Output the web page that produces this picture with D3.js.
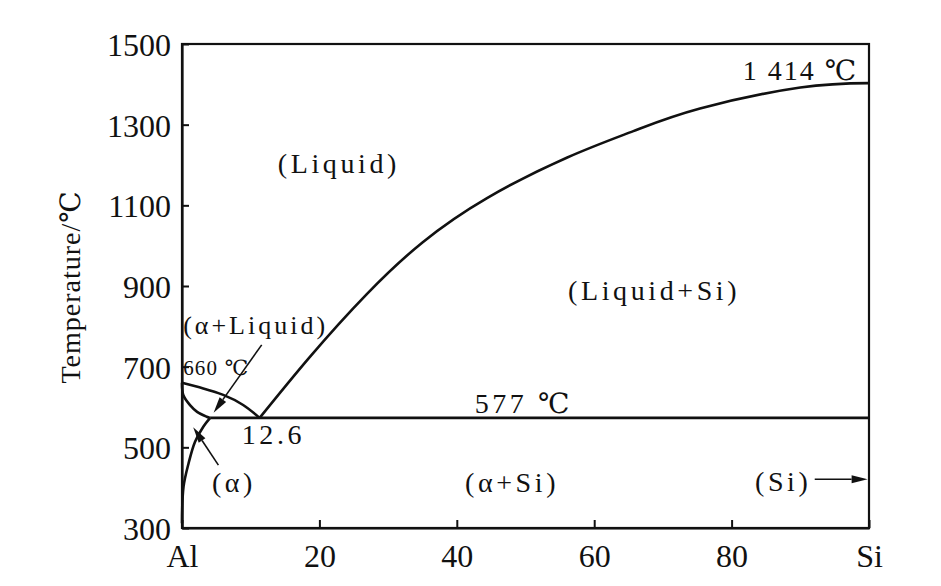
<!DOCTYPE html>
<html>
<head>
<meta charset="utf-8">
<script src="https://cdn.jsdelivr.net/npm/d3@7/dist/d3.min.js"></script>
<style>
  html, body { margin: 0; padding: 0; background: #fff; }
  #chart { width: 941px; height: 586px; }
</style>
</head>
<body>
<div id="chart"></div>
<script>
// ---- Data (composition in wt.% Si, temperature in ℃) ----
const xTicks = [0, 20, 40, 60, 80, 100];
const xTickLabels = ['Al', '20', '40', '60', '80', 'Si'];
const yTicks = [300, 500, 700, 900, 1100, 1300, 1500];

// liquidus, Al side: 660 ℃ down to the eutectic
const liquidusAl = [[0, 660], [3.1, 646], [6.0, 630], [8.9, 605], [11.3, 573]];
// liquidus, Si side: eutectic up to the Si melting point
const liquidusSi = [[11.3, 573], [18.65, 725], [26.9, 880], [35.0, 1008], [44.4, 1118],
                    [56.0, 1218], [65.7, 1284], [75.4, 1340], [90.0, 1392], [100, 1403]];
// solidus of (α)
const solidus = [[0, 660], [0.2, 629], [1.2, 604], [2.2, 588], [3.6, 576], [4.1, 573]];
// solvus of (α)
const solvus = [[4.1, 573], [3.1, 551], [1.9, 514], [0.95, 460], [0.22, 402], [0, 312]];
// eutectic isotherm
const eutectic = [[4.1, 573], [100, 573]];

// annotation arrows [from, to] in data units
const arrows = [
  [[11.6, 754], [4.6, 586]],   // (α+Liquid)
  [[5.3, 456], [1.63, 550]],   // (α)
  [[92.1, 421], [99.8, 421]]   // (Si)
];

// labels: text, x, temperature, anchor, style class
const labels = [
  ['(Liquid)', 13.95, 1180, 'start', 'big'],
  ['(Liquid+Si)', 56.2, 865, 'start', 'big'],
  ['(α+Liquid)', 0.17, 781, 'start', 'mid'],
  ['660 ℃', 0.17, 679, 'start', 'small'],
  ['12.6', 8.7, 508, 'start', 'big'],
  ['577 ℃', 42.6, 585, 'start', 'big'],
  ['1 414 ℃', 98.4, 1411, 'end', 'tight'],
  ['(α)', 4.35, 389, 'start', 'big'],
  ['(α+Si)', 41.2, 389, 'start', 'big'],
  ['(Si)', 83.4, 392, 'start', 'big']
];

// ---- Layout ----
const W = 941, H = 586;
const margin = { top: 44, right: 72, bottom: 58, left: 182 };
const innerW = W - margin.left - margin.right;
const innerH = H - margin.top - margin.bottom;
const ink = '#111';
const serif = '"Liberation Serif", "Times New Roman", "DejaVu Serif", serif';

const svg = d3.select('#chart').append('svg')
  .attr('width', W)
  .attr('height', H)
  .attr('viewBox', `0 0 ${W} ${H}`);

const g = svg.append('g')
  .attr('transform', `translate(${margin.left},${margin.top})`);

// ---- Scales ----
const x = d3.scaleLinear().domain([0, 100]).range([0, innerW]);
const y = d3.scaleLinear().domain([300, 1500]).range([innerH, 0]);

// ---- Frame ----
g.append('rect')
  .attr('x', 0).attr('y', 0)
  .attr('width', innerW).attr('height', innerH)
  .attr('fill', 'none')
  .attr('stroke', ink)
  .attr('stroke-width', 2.2);

// ---- Axes (ticks point inward) ----
const xAxis = g.append('g')
  .attr('transform', `translate(0,${innerH})`)
  .call(d3.axisBottom(x).tickValues(xTicks).tickSizeInner(-8).tickSizeOuter(0)
    .tickPadding(16).tickFormat((d, i) => xTickLabels[i]));

const yAxis = g.append('g')
  .call(d3.axisLeft(y).tickValues(yTicks).tickSizeInner(-7).tickSizeOuter(0)
    .tickPadding(11).tickFormat(d3.format('d')));

[xAxis, yAxis].forEach(a => {
  a.select('.domain').attr('stroke', ink).attr('stroke-width', 2.2);
  a.selectAll('.tick line').attr('stroke', ink).attr('stroke-width', 2);
  a.selectAll('.tick text')
    .style('font-family', serif)
    .style('font-size', '32px')
    .attr('fill', ink);
});
yAxis.selectAll('.tick text').attr('dy', '0.36em');

// ---- Axis title ----
g.append('text')
  .attr('transform', `translate(${80 - margin.left},${287 - margin.top}) rotate(-90)`)
  .attr('text-anchor', 'middle')
  .style('font-family', serif)
  .style('font-size', '28px')
  .style('letter-spacing', '1px')
  .attr('fill', ink)
  .text('Temperature/℃');

// ---- Phase boundaries ----
const lineSmooth = d3.line()
  .x(d => x(d[0]))
  .y(d => y(d[1]))
  .curve(d3.curveNatural);
const lineFree = d3.line()
  .x(d => x(d[0]))
  .y(d => y(d[1]))
  .curve(d3.curveCatmullRom.alpha(0.5));

[[liquidusAl, lineSmooth], [liquidusSi, lineSmooth], [solidus, lineFree], [solvus, lineFree]]
  .forEach(([pts, gen]) => {
    g.append('path')
      .datum(pts)
      .attr('d', gen)
      .attr('fill', 'none')
      .attr('stroke', ink)
      .attr('stroke-width', 2.6);
  });

g.append('path')
  .datum(eutectic)
  .attr('d', d3.line().x(d => x(d[0])).y(d => y(d[1])))
  .attr('fill', 'none')
  .attr('stroke', ink)
  .attr('stroke-width', 2.6);

// ---- Arrows ----
arrows.forEach(([a, b]) => {
  const x0 = x(a[0]), y0 = y(a[1]), x1 = x(b[0]), y1 = y(b[1]);
  const ang = Math.atan2(y1 - y0, x1 - x0);
  const len = 16, half = 4;
  const bx = x1 - len * Math.cos(ang), by = y1 - len * Math.sin(ang);
  const nx = -Math.sin(ang) * half, ny = Math.cos(ang) * half;
  g.append('line')
    .attr('x1', x0).attr('y1', y0).attr('x2', bx).attr('y2', by)
    .attr('stroke', ink).attr('stroke-width', 1.6);
  g.append('path')
    .attr('d', `M${x1},${y1}L${bx + nx},${by + ny}L${bx - nx},${by - ny}Z`)
    .attr('fill', ink);
});

// ---- Region labels ----
const sizes = { big: 28, tight: 28, mid: 26, small: 21 };
const spacing = { big: 3.6, tight: 2, mid: 3, small: 1.2 };
g.selectAll('text.lab')
  .data(labels)
  .enter().append('text')
  .attr('class', 'lab')
  .attr('x', d => x(d[1]))
  .attr('y', d => y(d[2]))
  .attr('text-anchor', d => d[3])
  .style('font-family', serif)
  .style('font-size', d => sizes[d[4]] + 'px')
  .style('letter-spacing', d => spacing[d[4]] + 'px')
  .attr('fill', ink)
  .text(d => d[0]);
</script>
</body>
</html>
